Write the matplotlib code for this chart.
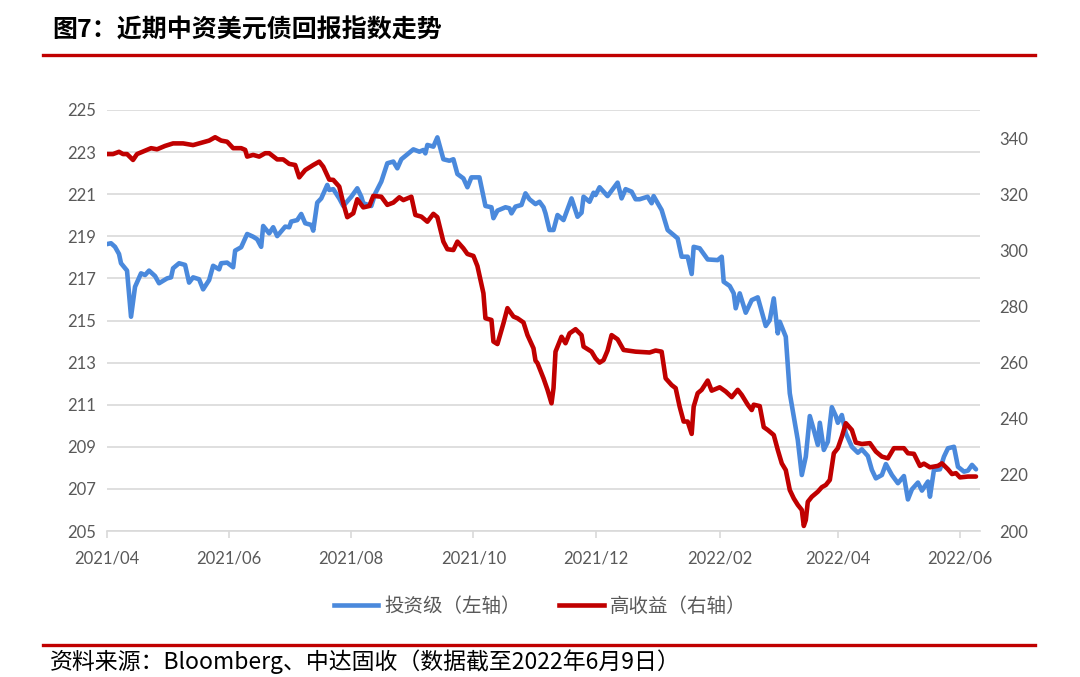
import matplotlib
matplotlib.use("Agg")
import matplotlib.pyplot as plt
import matplotlib.dates as mdates
from matplotlib.lines import Line2D
import pandas as pd

plt.rcParams['font.family'] = ['Lato', 'Noto Sans CJK SC', 'DejaVu Sans']
CJK = ['Noto Sans CJK SC', 'DejaVu Sans']

# ---------------- data ----------------
ig_dates = [
    "2021-04-01", "2021-04-03", "2021-04-05", "2021-04-07", "2021-04-08", "2021-04-11", "2021-04-13",
    "2021-04-15", "2021-04-18", "2021-04-20", "2021-04-22", "2021-04-25", "2021-04-27", "2021-05-01",
    "2021-05-03", "2021-05-04", "2021-05-07", "2021-05-10", "2021-05-12", "2021-05-14", "2021-05-17",
    "2021-05-19", "2021-05-22", "2021-05-24", "2021-05-27", "2021-05-28", "2021-05-31", "2021-06-03",
    "2021-06-04", "2021-06-07", "2021-06-10", "2021-06-13", "2021-06-15", "2021-06-17", "2021-06-18",
    "2021-06-21", "2021-06-23", "2021-06-25", "2021-06-29", "2021-07-01", "2021-07-02", "2021-07-05",
    "2021-07-07", "2021-07-09", "2021-07-12", "2021-07-13", "2021-07-15", "2021-07-17", "2021-07-20",
    "2021-07-21", "2021-07-23", "2021-07-26", "2021-07-28", "2021-08-01", "2021-08-04", "2021-08-06",
    "2021-08-07", "2021-08-11", "2021-08-13", "2021-08-16", "2021-08-19", "2021-08-22", "2021-08-24",
    "2021-08-26", "2021-08-30", "2021-09-01", "2021-09-04", "2021-09-06", "2021-09-07", "2021-09-08",
    "2021-09-11", "2021-09-13", "2021-09-16", "2021-09-19", "2021-09-21", "2021-09-23", "2021-09-26",
    "2021-09-28", "2021-09-30", "2021-10-04", "2021-10-07", "2021-10-10", "2021-10-11", "2021-10-13",
    "2021-10-17", "2021-10-19", "2021-10-20", "2021-10-22", "2021-10-25", "2021-10-27", "2021-10-29",
    "2021-11-01", "2021-11-03", "2021-11-05", "2021-11-06", "2021-11-08", "2021-11-10", "2021-11-12",
    "2021-11-15", "2021-11-19", "2021-11-22", "2021-11-24", "2021-11-25", "2021-11-28", "2021-11-30",
    "2021-12-01", "2021-12-03", "2021-12-07", "2021-12-12", "2021-12-14", "2021-12-16", "2021-12-19",
    "2021-12-21", "2021-12-23", "2021-12-27", "2021-12-29", "2021-12-30", "2022-01-03", "2022-01-06",
    "2022-01-09", "2022-01-11", "2022-01-13", "2022-01-16", "2022-01-18", "2022-01-19", "2022-01-22",
    "2022-01-26", "2022-01-31", "2022-02-02", "2022-02-03", "2022-02-06", "2022-02-08", "2022-02-09",
    "2022-02-11", "2022-02-14", "2022-02-17", "2022-02-20", "2022-02-24", "2022-02-26", "2022-02-28",
    "2022-03-02", "2022-03-03", "2022-03-06", "2022-03-08", "2022-03-12", "2022-03-14", "2022-03-16",
    "2022-03-18", "2022-03-20", "2022-03-22", "2022-03-23", "2022-03-25", "2022-03-27", "2022-03-29",
    "2022-03-31", "2022-04-01", "2022-04-03", "2022-04-05", "2022-04-08", "2022-04-11", "2022-04-13",
    "2022-04-16", "2022-04-18", "2022-04-20", "2022-04-23", "2022-04-25", "2022-04-28", "2022-05-01",
    "2022-05-04", "2022-05-06", "2022-05-08", "2022-05-11", "2022-05-13", "2022-05-16", "2022-05-17",
    "2022-05-19", "2022-05-22", "2022-05-24", "2022-05-26", "2022-05-29", "2022-05-31", "2022-06-03",
    "2022-06-05", "2022-06-07", "2022-06-09",
]
ig_values = [
    218.63, 218.67, 218.50, 218.16, 217.72, 217.37, 215.18,
    216.60, 217.24, 217.16, 217.37, 217.11, 216.77, 217.00,
    217.05, 217.48, 217.72, 217.64, 216.80, 217.05, 216.96,
    216.48, 216.92, 217.60, 217.43, 217.72, 217.75, 217.53,
    218.32, 218.48, 219.11, 218.98, 218.86, 218.50, 219.49,
    219.14, 219.43, 219.01, 219.46, 219.43, 219.70, 219.77,
    220.06, 219.62, 219.54, 219.27, 220.60, 220.80, 221.44,
    221.20, 221.24, 220.80, 220.44, 220.88, 221.28, 220.88,
    220.57, 220.44, 221.04, 221.60, 222.47, 222.55, 222.23,
    222.66, 222.97, 223.13, 223.02, 223.10, 222.94, 223.34,
    223.26, 223.70, 222.66, 222.59, 222.66, 221.96, 221.75,
    221.33, 221.80, 221.80, 220.44, 220.38, 219.86, 220.22,
    220.38, 220.33, 220.09, 220.41, 220.49, 221.04, 220.76,
    220.53, 220.64, 220.38, 220.09, 219.30, 219.30, 220.01,
    219.77, 220.80, 219.93, 220.12, 220.88, 220.64, 221.07,
    220.96, 221.33, 220.91, 221.55, 220.80, 221.24, 221.12,
    220.76, 220.76, 220.88, 220.57, 220.91, 220.25, 219.30,
    219.06, 218.90, 218.03, 218.03, 217.21, 218.50, 218.43,
    217.90, 217.87, 218.03, 216.84, 216.64, 216.29, 215.58,
    216.29, 215.37, 215.97, 216.10, 214.74, 215.02, 216.05,
    214.39, 214.94, 214.23, 211.54, 209.32, 207.66, 208.53,
    210.46, 209.80, 209.09, 210.14, 208.85, 209.24, 210.88,
    210.46, 210.14, 210.51, 209.64, 209.00, 208.72, 208.88,
    208.56, 207.90, 207.50, 207.66, 208.18, 207.66, 207.27,
    207.61, 206.50, 206.98, 207.30, 206.92, 207.35, 206.63,
    207.90, 207.93, 208.53, 208.93, 209.00, 208.05, 207.82,
    207.87, 208.14, 207.93,
]

hy_dates = [
    "2021-04-01", "2021-04-04", "2021-04-07", "2021-04-09", "2021-04-11", "2021-04-14", "2021-04-16",
    "2021-04-20", "2021-04-23", "2021-04-26", "2021-04-30", "2021-05-04", "2021-05-09", "2021-05-14",
    "2021-05-17", "2021-05-22", "2021-05-25", "2021-05-28", "2021-05-31", "2021-06-03", "2021-06-07",
    "2021-06-09", "2021-06-10", "2021-06-13", "2021-06-16", "2021-06-19", "2021-06-21", "2021-06-25",
    "2021-06-28", "2021-07-01", "2021-07-04", "2021-07-06", "2021-07-09", "2021-07-13", "2021-07-16",
    "2021-07-18", "2021-07-21", "2021-07-23", "2021-07-26", "2021-07-28", "2021-07-30", "2021-08-02",
    "2021-08-04", "2021-08-07", "2021-08-10", "2021-08-12", "2021-08-16", "2021-08-19", "2021-08-22",
    "2021-08-25", "2021-08-27", "2021-08-31", "2021-09-02", "2021-09-05", "2021-09-08", "2021-09-11",
    "2021-09-13", "2021-09-16", "2021-09-18", "2021-09-21", "2021-09-23", "2021-09-26", "2021-09-28",
    "2021-10-01", "2021-10-03", "2021-10-06", "2021-10-07", "2021-10-10", "2021-10-11", "2021-10-13",
    "2021-10-16", "2021-10-18", "2021-10-21", "2021-10-23", "2021-10-26", "2021-10-28", "2021-10-31",
    "2021-11-01", "2021-11-02", "2021-11-05", "2021-11-07", "2021-11-09", "2021-11-10", "2021-11-11",
    "2021-11-14", "2021-11-16", "2021-11-18", "2021-11-21", "2021-11-24", "2021-11-25", "2021-11-29",
    "2021-12-01", "2021-12-03", "2021-12-05", "2021-12-07", "2021-12-09", "2021-12-12", "2021-12-15",
    "2021-12-21", "2021-12-28", "2021-12-31", "2022-01-03", "2022-01-05", "2022-01-08", "2022-01-10",
    "2022-01-12", "2022-01-14", "2022-01-16", "2022-01-18", "2022-01-19", "2022-01-21", "2022-01-23",
    "2022-01-26", "2022-01-28", "2022-02-01", "2022-02-04", "2022-02-07", "2022-02-10", "2022-02-12",
    "2022-02-15", "2022-02-17", "2022-02-18", "2022-02-21", "2022-02-23", "2022-02-25", "2022-02-28",
    "2022-03-02", "2022-03-04", "2022-03-06", "2022-03-08", "2022-03-10", "2022-03-12", "2022-03-14",
    "2022-03-15", "2022-03-16", "2022-03-17", "2022-03-19", "2022-03-22", "2022-03-24", "2022-03-26",
    "2022-03-28", "2022-03-30", "2022-04-01", "2022-04-03", "2022-04-05", "2022-04-08", "2022-04-10",
    "2022-04-13", "2022-04-17", "2022-04-20", "2022-04-23", "2022-04-26", "2022-04-29", "2022-05-04",
    "2022-05-06", "2022-05-09", "2022-05-12", "2022-05-14", "2022-05-17", "2022-05-21", "2022-05-23",
    "2022-05-26", "2022-05-28", "2022-05-30", "2022-06-01", "2022-06-05", "2022-06-09",
]
hy_values = [
    334.3, 334.3, 335.1, 334.3, 334.3, 332.2, 334.3,
    335.5, 336.4, 336.0, 337.2, 338.1, 338.1, 337.5,
    338.1, 339.1, 340.3, 339.1, 338.7, 336.4, 336.4,
    335.8, 333.4, 334.0, 333.4, 334.6, 334.6, 332.4,
    332.4, 330.8, 330.4, 326.0, 328.6, 330.4, 331.6,
    329.8, 325.2, 325.1, 322.7, 316.8, 311.8, 313.2,
    318.2, 315.3, 315.8, 319.4, 319.1, 316.2, 317.0,
    318.9, 317.9, 319.1, 312.6, 312.0, 310.2, 313.0,
    311.8, 303.1, 300.4, 300.1, 303.1, 300.7, 298.7,
    298.0, 294.4, 284.7, 275.8, 275.2, 267.5, 266.6,
    274.0, 279.4, 276.4, 275.8, 274.3, 269.8, 265.1,
    260.7, 259.8, 254.4, 250.3, 245.5, 250.9, 263.9,
    269.2, 266.9, 270.4, 271.9, 269.8, 265.7, 263.9,
    261.5, 260.0, 260.9, 264.3, 269.8, 268.3, 264.5,
    263.9, 263.6, 264.3, 263.9, 254.4, 252.0, 250.9,
    244.3, 239.0, 239.0, 234.6, 244.3, 249.1, 250.3,
    253.6, 250.0, 251.2, 249.7, 247.7, 250.3, 248.5,
    245.0, 243.1, 245.0, 244.5, 237.0, 236.0, 234.2,
    228.9, 224.1, 221.7, 214.6, 211.6, 209.3, 207.5,
    201.8, 203.9, 210.4, 212.2, 214.0, 215.6, 216.4,
    218.2, 227.7, 229.5, 233.6, 238.4, 236.0, 231.5,
    231.0, 231.3, 228.3, 226.5, 225.9, 229.5, 229.5,
    227.7, 227.5, 223.2, 224.0, 222.7, 223.2, 224.1,
    222.0, 220.3, 220.6, 219.1, 219.4, 219.4,
]

left_ticks = [205, 207, 209, 211, 213, 215, 217, 219, 221, 223, 225]
right_ticks = [200, 220, 240, 260, 280, 300, 320, 340]

title_text = "图7：近期中资美元债回报指数走势"
source_text = "资料来源：Bloomberg、中达固收（数据截至2022年6月9日）"
label_ig = "投资级（左轴）"
label_hy = "高收益（右轴）"

# ---------------- styling ----------------
BLUE = "#4A89DC"
RED = "#C00000"
GRID = "#D9D9D9"
TXT = "#595959"

ig_x = pd.to_datetime(ig_dates)
hy_x = pd.to_datetime(hy_dates)

fig = plt.figure(figsize=(10.8, 6.77), dpi=100)
ax = fig.add_axes([107 / 1080, 1 - 531 / 677, (980 - 107) / 1080, (531 - 110) / 677])
ax2 = ax.twinx()

ax.plot(ig_x, ig_values, color=BLUE, lw=3.3, solid_joinstyle='round', solid_capstyle='round')
ax2.plot(hy_x, hy_values, color=RED, lw=3.3, solid_joinstyle='round', solid_capstyle='round')

ax.set_ylim(205, 225)
ax.set_yticks(left_ticks)
ax2.set_ylim(200, 350)
ax2.set_yticks(right_ticks)
ax.set_xlim(pd.Timestamp("2021-04-01"), pd.Timestamp("2022-06-11"))

ax.xaxis.set_major_locator(mdates.MonthLocator(bymonth=[2, 4, 6, 8, 10, 12]))
ax.xaxis.set_major_formatter(mdates.DateFormatter("%Y/%m"))

ax.grid(axis='y', color=GRID, lw=1.2)
ax.set_axisbelow(True)
for a in (ax, ax2):
    for s in ("top", "left", "right", "bottom"):
        a.spines[s].set_visible(False)
ax.spines["bottom"].set_visible(True)
ax.spines["bottom"].set_color(GRID)
ax.spines["bottom"].set_linewidth(1.2)

ax.tick_params(axis='x', direction='out', length=5, width=1.2, color=GRID,
               labelsize=12, labelcolor=TXT, pad=9)
ax.tick_params(axis='y', length=0, labelsize=12, labelcolor=TXT, pad=8)
ax2.tick_params(axis='y', length=0, labelsize=12, labelcolor=TXT, pad=14)

# title & decorations
fig.text(52 / 1080, 1 - 31 / 677, title_text, family=CJK, fontsize=18,
         fontweight='bold', color="#000000", va='center', ha='left')
fig.add_artist(Line2D([43 / 1080, 1035 / 1080], [1 - 55 / 677, 1 - 55 / 677],
                      color=RED, lw=2.4, transform=fig.transFigure))
fig.add_artist(Line2D([43 / 1080, 1035 / 1080], [1 - 645 / 677, 1 - 645 / 677],
                      color=RED, lw=2.4, transform=fig.transFigure))
fig.text(50 / 1080, 1 - 662 / 677, source_text, family=CJK, fontsize=16.5,
         color="#000000", va='center', ha='left')

handles = [Line2D([], [], color=BLUE, lw=3.3), Line2D([], [], color=RED, lw=3.3)]
fig.legend(handles, [label_ig, label_hy], loc='center', bbox_to_anchor=(540 / 1080, 1 - 606 / 677),
           ncol=2, frameon=False, handlelength=2.3, handletextpad=0.3, columnspacing=2.0,
           prop={'family': CJK, 'size': 14}, labelcolor=TXT)

fig.savefig("out.png", dpi=100, facecolor="white")
